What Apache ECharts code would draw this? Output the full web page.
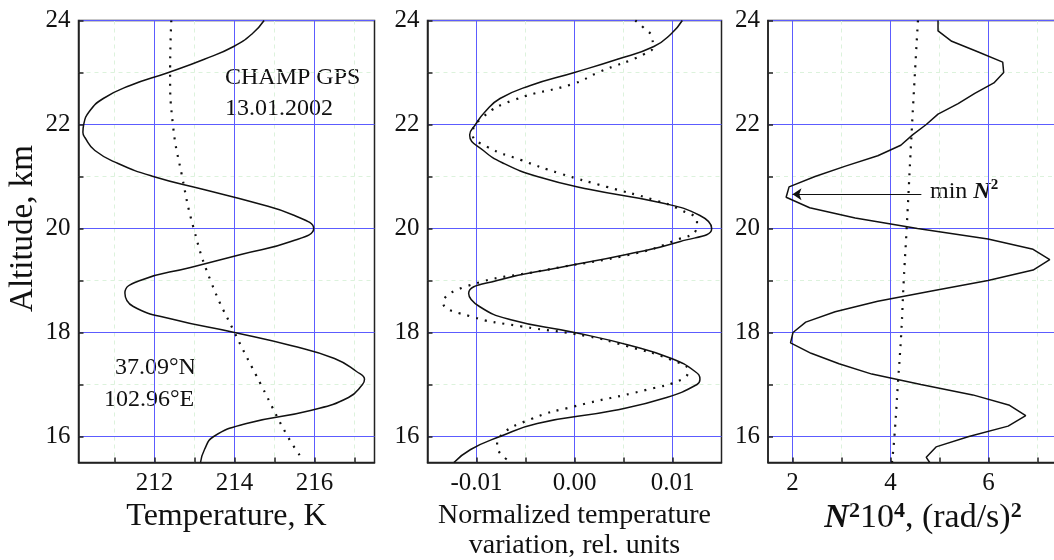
<!DOCTYPE html>
<html><head><meta charset="utf-8">
<script src="https://cdn.jsdelivr.net/npm/echarts@6/dist/echarts.min.js"></script>
<style>html,body{margin:0;padding:0;background:#fff}#c{width:1054px;height:560px}</style>
</head><body><div id="c"></div>
<script>
// ---- tick values ----
const altMajor = [16, 18, 20, 22, 24];
const altMinor = [17, 19, 21, 23];
const altAll = [16, 17, 18, 19, 20, 21, 22, 23, 24];
const tempMajor = [212, 214, 216];
const tempMinor = [211, 213, 215, 217];
const tempAll = [211, 212, 213, 214, 215, 216, 217];
const normMajor = [-0.01, 0, 0.01];
const normMinor = [-0.005, 0.005];
const normAll = [-0.01, -0.005, 0, 0.005, 0.01];
const n2Major = [2, 4, 6];
const n2Minor = [3, 5, 7];
const n2All = [2, 3, 4, 5, 6, 7];

// ---- panel 1: temperature ----
const tempAlt = [24,23.75,23.5,23.25,23,22.75,22.5,22.25,22,21.85,21.75,21.5,21.25,21,20.75,20.5,20.25,20,19.75,19.5,19.25,19,18.76,18.5,18.25,18,17.75,17.5,17.25,17.1,17,16.75,16.5,16.25,16,15.75,15.5];
const tempVal = [214.74,214.45,213.98,213.23,212.35,211.39,210.72,210.37,210.23,210.21,210.26,210.51,211.09,211.97,213.23,214.49,215.5,215.98,215.41,214.16,212.9,211.64,211.26,211.47,212.48,214.0,215.41,216.5,217.05,217.25,217.2,216.85,215.9,214.3,213.48,213.25,213.15];
const tempBgAlt = [24,23,22,21,20,19,18,17,16,15.6];
const tempBgVal = [212.42,212.39,212.46,212.69,212.98,213.4,214.0,214.66,215.33,215.67];

// ---- panel 2: normalized variation ----
const normAlt = [24,23.75,23.5,23.25,23,22.75,22.5,22.25,22,21.8,21.5,21.25,21,20.75,20.5,20.25,20,19.75,19.5,19.25,19,18.75,18.5,18.25,18,17.75,17.5,17.25,17.1,17,16.75,16.5,16.25,16,15.75,15.5];
const normVal = [0.0110,0.0099,0.0081,0.0043,0.0000,-0.0045,-0.0076,-0.0091,-0.0101,-0.0107,-0.0093,-0.0072,-0.0038,0.0016,0.0087,0.0128,0.0140,0.0108,0.0053,-0.0015,-0.0079,-0.0108,-0.0097,-0.0066,0.0000,0.0057,0.0099,0.0123,0.0128,0.0125,0.0094,0.0040,-0.0038,-0.0076,-0.0106,-0.0123];
const normFitAlt = [24,23.87,23.68,23.5,23.36,23,22.79,22.47,22.15,21.82,21.57,21.32,21.06,20.8,20.55,20.36,20.13,19.97,19.78,19.53,19.2,18.89,18.57,18.31,18.12,17.93,17.74,17.48,17.26,17.1,16.9,16.58,16.33,16,15.82,15.5];
const normFitVal = [0.0062,0.0070,0.0079,0.0080,0.0072,0.0024,0.0000,-0.0062,-0.0093,-0.0104,-0.0089,-0.0055,-0.0015,0.0033,0.0081,0.0108,0.0125,0.0124,0.0104,0.0064,-0.0030,-0.0110,-0.0134,-0.0106,-0.0055,0.0013,0.0053,0.0098,0.0116,0.0110,0.0074,0.0000,-0.0045,-0.0076,-0.0079,-0.0064];

// ---- panel 3: N^2 ----
const n2Alt = [24,23.8,23.6,23.4,23.2,23,22.8,22.6,22.4,22.2,22,21.8,21.6,21.4,21.2,21,20.8,20.6,20.4,20.2,20,19.8,19.6,19.4,19.2,19,18.8,18.6,18.4,18.2,18,17.8,17.6,17.4,17.2,17,16.8,16.6,16.4,16.2,16,15.8,15.6,15.5];
const n2Val = [4.97,4.97,5.25,5.78,6.29,6.31,6.11,5.72,5.38,4.97,4.73,4.45,4.21,3.74,3.08,2.46,1.93,1.87,2.35,3.28,4.55,5.99,6.91,7.25,6.91,5.99,4.84,3.74,2.87,2.27,2.01,1.96,2.38,2.95,3.62,4.62,5.68,6.43,6.76,6.40,5.6,4.93,4.73,4.8];
const n2BgAlt = [24,22,20,19,18,17,16,15.5];
const n2BgVal = [4.56,4.44,4.33,4.27,4.22,4.15,4.08,4.03];

const minArrowAlt = 20.66;
const minArrowFrom = 4.63;
const minArrowTo = 2.0;

const FONT = 'Liberation Serif';
const zip = (a, v) => a.map((y, i) => [v[i], y]);

const grids = [
  {left: 78.5, top: 20.5, width: 296, height: 442},
  {left: 427.5, top: 20.5, width: 294, height: 442},
  {left: 768, top: 20.5, width: 294, height: 442}
].map(g => Object.assign(g, {show: true, borderColor: '#222', borderWidth: 1.5, backgroundColor: 'transparent', containLabel: false, outerBoundsMode: 'none'}));

function axes(dim, gi, min, max, major, minor, all, fmt, name, nameGap, nameStyle) {
  const main = {
    gridIndex: gi, type: 'value', min, max, z: 3,
    position: dim === 'x' ? 'bottom' : 'left',
    axisLine: {show: true, onZero: false, lineStyle: {color: '#222', width: 1.5}},
    axisTick: {show: true, inside: true, length: 5, customValues: all, lineStyle: {color: '#222', width: 1.5}},
    axisLabel: {show: true, customValues: major, formatter: fmt, fontSize: 25, fontFamily: FONT, color: '#111', margin: 8},
    splitLine: {show: false}
  };
  if (name) {
    Object.assign(main, {name, nameLocation: 'middle', nameGap, nameTextStyle: nameStyle});
    if (dim === 'y') main.nameRotate = 90;
  }
  const hidden = (vals, color, type, z) => ({
    gridIndex: gi, type: 'value', min, max, z,
    position: dim === 'x' ? 'top' : 'right',
    axisLine: {show: false, onZero: false},
    axisTick: {show: false, customValues: vals},
    axisLabel: {show: false, customValues: vals},
    splitLine: {show: true, lineStyle: {color, width: 1, type}}
  });
  return [hidden(minor, '#dcf2dc', [4, 4], 0), hidden(major, '#5c5cff', 'solid', 1), main];
}

const intFmt = v => String(Math.round(v));
const normFmt = v => (Math.abs(v) < 1e-9 ? '0.00' : v.toFixed(2));

const xAxes = [
  ...axes('x', 0, 210.1, 217.5, tempMajor, tempMinor, tempAll, intFmt, 'Temperature, K', 36,
    {fontSize: 32, fontFamily: FONT, color: '#111'}),
  ...axes('x', 1, -0.015, 0.015, normMajor, normMinor, normAll, normFmt, 'Normalized temperature\nvariation, rel. units', 35,
    {fontSize: 28, fontFamily: FONT, color: '#111', lineHeight: 30}),
  ...axes('x', 2, 1.5, 7.5, n2Major, n2Minor, n2All, intFmt, '{n|N}{s|2}{t|10}{s|4}{t|, (rad/s)}{s|2}', 34,
    {padding: [0, 0, 0, 16], rich: {
      n: {fontSize: 34, fontFamily: FONT, fontWeight: 'bold', fontStyle: 'italic', color: '#111', lineHeight: 36},
      t: {fontSize: 34, fontFamily: FONT, color: '#111', lineHeight: 36},
      s: {fontSize: 22, fontFamily: FONT, fontWeight: 'bold', color: '#111', lineHeight: 18, verticalAlign: 'top'}
    }})
];
const yAxes = [
  ...axes('y', 0, 15.5, 24, altMajor, altMinor, altAll, intFmt, 'Altitude, km', 39,
    {fontSize: 33, fontFamily: FONT, color: '#111', padding: [0, 0, 0, 26]}),
  ...axes('y', 1, 15.5, 24, altMajor, altMinor, altAll, intFmt),
  ...axes('y', 2, 15.5, 24, altMajor, altMinor, altAll, intFmt)
];

const solid = {color: '#111', width: 1.5};
const dotted = {color: '#111', width: 2.2, type: [2, 7], cap: 'butt'};
function line(gi, data, style, smooth, extra) {
  return Object.assign({
    type: 'line', xAxisIndex: gi * 3 + 2, yAxisIndex: gi * 3 + 2, data,
    showSymbol: false, symbol: 'none', smooth, lineStyle: style, silent: true, z: 5
  }, extra || {});
}

const option = {
  animation: false,
  backgroundColor: '#fff',
  grid: grids,
  xAxis: xAxes,
  yAxis: yAxes,
  series: [
    line(0, zip(tempBgAlt, tempBgVal), dotted, true),
    line(0, zip(tempAlt, tempVal), solid, true),
    line(1, zip(normFitAlt, normFitVal), dotted, true),
    line(1, zip(normAlt, normVal), solid, true),
    line(2, zip(n2BgAlt, n2BgVal), dotted, true),
    line(2, zip(n2Alt, n2Val), solid, false, {
      markLine: {
        silent: true, symbol: ['none', 'arrow'], symbolSize: 9,
        label: {show: false},
        lineStyle: {color: '#111', width: 1, type: 'solid'},
        data: [[{coord: [minArrowFrom, minArrowAlt]}, {coord: [minArrowTo, minArrowAlt]}]]
      }
    })
  ],
  graphic: [
    {type: 'text', left: 225, top: 62, style: {text: 'CHAMP GPS\n13.01.2002', font: '24px "Liberation Serif"', fill: '#111', lineHeight: 31}},
    {type: 'text', left: 115, top: 356, style: {text: '37.09°N', font: '24px "Liberation Serif"', fill: '#111'}},
    {type: 'text', left: 104, top: 388, style: {text: '102.96°E', font: '24px "Liberation Serif"', fill: '#111'}},
    {type: 'text', left: 930, top: 178, style: {
      text: '{t|min }{n|N}{s|2}',
      rich: {
        t: {fontSize: 24, fontFamily: FONT, fill: '#111', lineHeight: 28},
        n: {fontSize: 24, fontFamily: FONT, fontWeight: 'bold', fontStyle: 'italic', fill: '#111', lineHeight: 28},
        s: {fontSize: 15, fontFamily: FONT, fontWeight: 'bold', fill: '#111', lineHeight: 16, verticalAlign: 'top'}
      }
    }}
  ]
};

const chart = echarts.init(document.getElementById('c'), null, {renderer: 'canvas'});
chart.setOption(option);
</script>
</body></html>
